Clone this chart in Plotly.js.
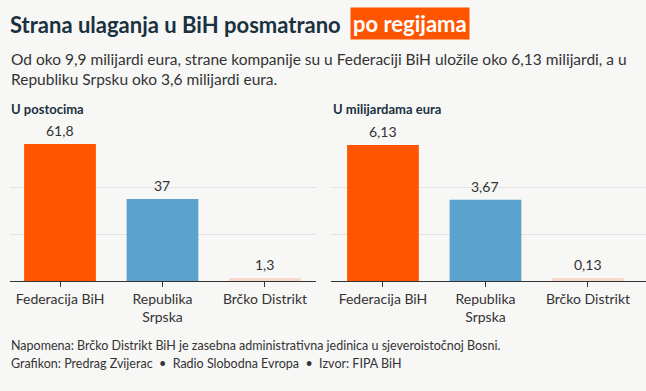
<!DOCTYPE html>
<html>
<head>
<meta charset="utf-8">
<script src="https://cdn.plot.ly/plotly-3.0.1.min.js"></script>
<style>
  html, body { margin: 0; padding: 0; background: #f7f7f6; }
  #chart { width: 646px; height: 391px; }
</style>
</head>
<body>
<div id="chart"></div>
<script>
// ---- Data ----
const categories = ["Federacija BiH", "Republika<br>Srpska", "Brčko Distrikt"];
const percentValues = [61.8, 37, 1.3];
const billionValues = [6.13, 3.67, 0.13];
const percentLabels = ["61,8", "37", "1,3"];
const billionLabels = ["6,13", "3,67", "0,13"];
const percentGrid = [21.05, 42.1, 63.15];
const billionGrid = [2.105, 4.21, 6.315];

// ---- Styles ----
const barColors = ["#ff5500", "#5aa3cf", "#f8d8cd"];
const FONT = "Lato, 'Noto Sans', sans-serif";
const W = 646, H = 391;
const px = x => x / W;
const py = y => 1 - y / H;

const traces = [
  {
    type: "bar", x: categories, y: percentValues, xaxis: "x", yaxis: "y",
    marker: { color: barColors }, hoverinfo: "skip", showlegend: false
  },
  {
    type: "bar", x: categories, y: billionValues, xaxis: "x2", yaxis: "y2",
    marker: { color: barColors }, hoverinfo: "skip", showlegend: false
  }
];

const annotations = [];
categories.forEach((c, i) => {
  annotations.push({ xref: "x", yref: "y", x: c, y: percentValues[i], text: percentLabels[i],
    showarrow: false, yanchor: "bottom", yshift: 3, font: { family: FONT, size: 14, color: "#333" } });
  annotations.push({ xref: "x2", yref: "y2", x: c, y: billionValues[i], text: billionLabels[i],
    showarrow: false, yanchor: "bottom", yshift: 3, font: { family: FONT, size: 14, color: "#333" } });
});

// Title & texts
annotations.push(
  { xref: "paper", yref: "paper", x: px(8), y: py(25), xanchor: "left", yanchor: "middle",
    text: "<b>Strana ulaganja u BiH posmatrano</b>", showarrow: false,
    font: { family: FONT, size: 22, color: "#1a3140" } },
  { xref: "paper", yref: "paper", x: px(350), y: py(24), xanchor: "left", yanchor: "middle",
    text: "<b>po regijama</b>", showarrow: false, bgcolor: "#ff5500", borderpad: 2,
    font: { family: FONT, size: 22, color: "#ffffff" } },
  { xref: "paper", yref: "paper", x: px(9), y: py(48), xanchor: "left", yanchor: "top", align: "left",
    text: "Od oko 9,9 milijardi eura, strane kompanije su u Federaciji BiH uložile oko 6,13 milijardi, a u<br>Republiku Srpsku oko 3,6 milijardi eura.",
    showarrow: false, font: { family: FONT, size: 15.5, color: "#333" } },
  { xref: "paper", yref: "paper", x: px(9), y: py(109), xanchor: "left", yanchor: "middle",
    text: "<b>U postocima</b>", showarrow: false, font: { family: FONT, size: 13, color: "#1a3140" } },
  { xref: "paper", yref: "paper", x: px(331), y: py(109), xanchor: "left", yanchor: "middle",
    text: "<b>U milijardama eura</b>", showarrow: false, font: { family: FONT, size: 13, color: "#1a3140" } },
  { xref: "paper", yref: "paper", x: px(9), y: py(345), xanchor: "left", yanchor: "middle",
    text: "Napomena: Brčko Distrikt BiH je zasebna administrativna jedinica u sjeveroistočnoj Bosni.",
    showarrow: false, font: { family: FONT, size: 12.5, color: "#333" } },
  { xref: "paper", yref: "paper", x: px(9), y: py(363), xanchor: "left", yanchor: "middle",
    text: "Grafikon: Predrag Zvijerac &nbsp;•&nbsp; Radio Slobodna Evropa &nbsp;•&nbsp; Izvor: FIPA BiH",
    showarrow: false, font: { family: FONT, size: 12.5, color: "#333" } }
);

const xCommon = {
  type: "category", showline: true, linecolor: "#333", linewidth: 1,
  ticks: "outside", ticklen: 5, tickcolor: "#333", tickwidth: 1,
  showgrid: false, zeroline: false, fixedrange: true,
  tickfont: { family: FONT, size: 14, color: "#333" }
};
const yCommon = {
  showticklabels: false, showgrid: true, gridcolor: "#e2e2e2", gridwidth: 1,
  zeroline: false, showline: false, ticks: "", fixedrange: true
};

const layout = {
  width: W, height: H,
  margin: { l: 0, r: 0, t: 0, b: 0 },
  paper_bgcolor: "#f7f7f6", plot_bgcolor: "rgba(0,0,0,0)",
  bargap: 0.3, separators: ",.",
  font: { family: FONT, color: "#333" },
  xaxis: Object.assign({}, xCommon, { domain: [px(10), px(316)], range: [-0.488, 2.498], anchor: "y" }),
  yaxis: Object.assign({}, yCommon, { domain: [py(281), py(141)], range: [0, 63.15], tickvals: percentGrid, anchor: "x" }),
  xaxis2: Object.assign({}, xCommon, { domain: [px(331), 1], range: [-0.507, 2.566], anchor: "y2" }),
  yaxis2: Object.assign({}, yCommon, { domain: [py(281), py(141)], range: [0, 6.315], tickvals: billionGrid, anchor: "x2" }),
  annotations: annotations
};

Plotly.newPlot("chart", traces, layout, { staticPlot: true, displayModeBar: false });
</script>
</body>
</html>
